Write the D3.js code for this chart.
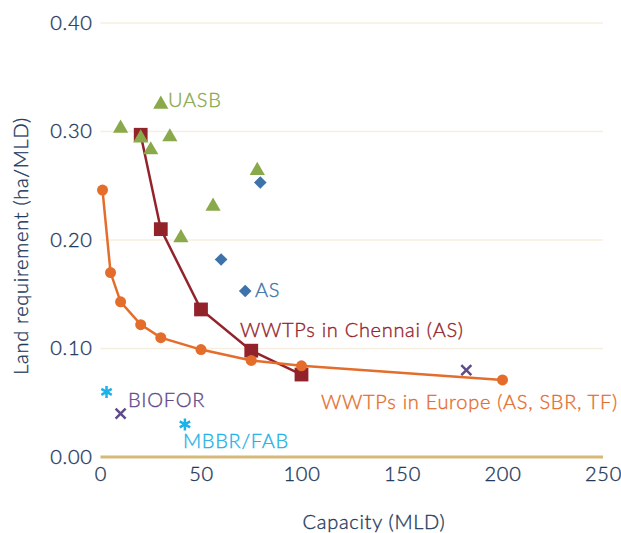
<!DOCTYPE html>
<html>
<head>
<meta charset="utf-8">
<script src="https://cdn.jsdelivr.net/npm/d3@7"></script>
<style>
  html, body { margin: 0; padding: 0; background: #ffffff; }
  svg { display: block; font-family: Lato, "Open Sans", sans-serif; font-weight: 300; }
  svg text { stroke-width: 0.35px; paint-order: stroke; }
</style>
</head>
<body>
<svg id="chart" width="621" height="533"></svg>
<script>
// Capacity (MLD) and land requirement (ha/MLD) for each group of plants
const europeCap  = [1, 5, 10, 20, 30, 50, 75, 100, 200];
const europeLand = [0.246, 0.170, 0.143, 0.122, 0.110, 0.099, 0.089, 0.084, 0.071];

const chennaiCap  = [20, 30, 50, 75, 100];
const chennaiLand = [0.297, 0.210, 0.136, 0.098, 0.076];

const uasbCap  = [10, 20, 25, 30, 34.5, 40, 56, 78];
const uasbLand = [0.303, 0.294, 0.283, 0.325, 0.295, 0.202, 0.231, 0.264];

const asCap  = [60, 72, 79.5];
const asLand = [0.182, 0.153, 0.253];

const bioforCap  = [10, 182];
const bioforLand = [0.040, 0.080];

const mbbrCap  = [3, 42];
const mbbrLand = [0.060, 0.030];

const xTicks = [0, 50, 100, 150, 200, 250];
const yTicks = [0.00, 0.10, 0.20, 0.30, 0.40];

const svg = d3.select("#chart");
const margin = { left: 100.5, right: 18, top: 23, bottom: 76 };
const W = 621, H = 533;

const x = d3.scaleLinear().domain([0, 250]).range([margin.left, W - margin.right]);
const y = d3.scaleLinear().domain([0, 0.4]).range([H - margin.bottom, margin.top]);

const navy = "#1f3a5c";
const fontSize = 20;
const spacing = "0.7px";

// horizontal gridlines
svg.append("g")
  .selectAll("line")
  .data(yTicks.filter(v => v > 0))
  .join("line")
  .attr("x1", x(0)).attr("x2", x(250))
  .attr("y1", d => y(d)).attr("y2", d => y(d))
  .attr("stroke", "#f6eedf").attr("stroke-width", 1.5);

// y axis labels
const yAxis = svg.append("g")
  .attr("transform", `translate(${x(0)},0)`)
  .call(d3.axisLeft(y).tickValues(yTicks).tickFormat(d3.format(".2f")).tickSize(0).tickPadding(8));
yAxis.select(".domain").remove();
yAxis.selectAll("text")
  .attr("fill", navy).attr("stroke", navy).attr("font-size", fontSize)
  .attr("font-family", "Lato, sans-serif").attr("font-weight", 300)
  .attr("letter-spacing", spacing);

// x axis labels
const xAxis = svg.append("g")
  .attr("transform", `translate(0,${y(0)})`)
  .call(d3.axisBottom(x).tickValues(xTicks).tickSize(0).tickPadding(10));
xAxis.select(".domain").remove();
xAxis.selectAll("text")
  .attr("fill", navy).attr("stroke", navy).attr("font-size", fontSize)
  .attr("font-family", "Lato, sans-serif").attr("font-weight", 300)
  .attr("letter-spacing", spacing);

// baseline
svg.append("line")
  .attr("x1", x(0)).attr("x2", x(250))
  .attr("y1", y(0)).attr("y2", y(0))
  .attr("stroke", "#d6b878").attr("stroke-width", 3);

// axis titles
svg.append("text")
  .attr("x", 374).attr("y", 529)
  .attr("text-anchor", "middle")
  .attr("fill", navy).attr("stroke", navy)
  .attr("font-size", fontSize).attr("letter-spacing", spacing)
  .text("Capacity (MLD)");

svg.append("text")
  .attr("transform", `translate(28,246) rotate(-90)`)
  .attr("text-anchor", "middle")
  .attr("fill", navy).attr("stroke", navy)
  .attr("font-size", fontSize).attr("letter-spacing", spacing)
  .text("Land requirement (ha/MLD)");

const zip = (a, b) => a.map((v, i) => [v, b[i]]);
const line = d3.line().x(d => x(d[0])).y(d => y(d[1]));

// Chennai series
const red = "#93232b";
const chennai = zip(chennaiCap, chennaiLand);
svg.append("path").datum(chennai).attr("d", line)
  .attr("fill", "none").attr("stroke", red).attr("stroke-width", 2.5);
svg.append("g").selectAll("path").data(chennai).join("path")
  .attr("transform", d => `translate(${x(d[0])},${y(d[1])})`)
  .attr("d", d3.symbol(d3.symbolSquare, 190))
  .attr("fill", red);

// Europe series
const orange = "#e46d2b";
const europe = zip(europeCap, europeLand);
svg.append("path").datum(europe).attr("d", line)
  .attr("fill", "none").attr("stroke", orange).attr("stroke-width", 2.5);
svg.append("g").selectAll("circle").data(europe).join("circle")
  .attr("cx", d => x(d[0])).attr("cy", d => y(d[1])).attr("r", 5.5)
  .attr("fill", orange);

// UASB triangles
const green = "#8aa94b";
svg.append("g").selectAll("path").data(zip(uasbCap, uasbLand)).join("path")
  .attr("transform", d => `translate(${x(d[0])},${y(d[1])})`)
  .attr("d", d3.symbol(d3.symbolTriangle, 100))
  .attr("fill", green);

// AS diamonds
const blue = "#3e72aa";
svg.append("g").selectAll("path").data(zip(asCap, asLand)).join("path")
  .attr("transform", d => `translate(${x(d[0])},${y(d[1])}) rotate(45)`)
  .attr("d", d3.symbol(d3.symbolSquare, 80))
  .attr("fill", blue);

// BIOFOR crosses
const purple = "#5f4a8b";
svg.append("g").selectAll("path").data(zip(bioforCap, bioforLand)).join("path")
  .attr("transform", d => `translate(${x(d[0])},${y(d[1])})`)
  .attr("d", "M-5,-5L5,5M-5,5L5,-5")
  .attr("stroke", purple).attr("stroke-width", 2.5).attr("fill", "none");

// MBBR/FAB asterisks
const cyan = "#1cb1e8";
svg.append("g").selectAll("path").data(zip(mbbrCap, mbbrLand)).join("path")
  .attr("transform", d => `translate(${x(d[0])},${y(d[1])})`)
  .attr("d", "M0,-6L0,6M-5.2,-3L5.2,3M-5.2,3L5.2,-3")
  .attr("stroke", cyan).attr("stroke-width", 2.5).attr("fill", "none");

// series labels
const labels = [
  { text: "UASB", x: 168, y: 107, color: green },
  { text: "AS", x: 255, y: 297, color: blue },
  { text: "WWTPs in Chennai (AS)", x: 240, y: 337, color: red },
  { text: "WWTPs in Europe (AS, SBR, TF)", x: 321, y: 409, color: orange },
  { text: "BIOFOR", x: 128, y: 407, color: purple },
  { text: "MBBR/FAB", x: 183, y: 448, color: cyan }
];
svg.append("g").selectAll("text").data(labels).join("text")
  .attr("x", d => d.x).attr("y", d => d.y)
  .attr("fill", d => d.color).attr("stroke", d => d.color)
  .attr("font-size", fontSize)
  .attr("letter-spacing", spacing)
  .text(d => d.text);
</script>
</body>
</html>
